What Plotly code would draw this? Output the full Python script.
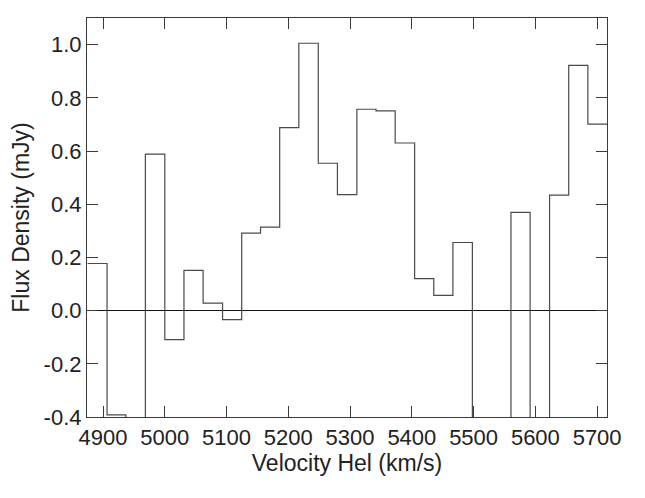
import plotly.graph_objects as go

# bin edges (km/s), plus the last right edge
bin_edges = [4875, 4906.5, 4937, 4968.5, 5000, 5031, 5062, 5093.5, 5124.5,
             5155, 5186, 5217, 5248.5, 5279.5, 5311, 5342, 5373, 5404.5,
             5435.5, 5466.5, 5498, 5529, 5560.5, 5591.5, 5623, 5654, 5685, 5716]
# flux per bin (mJy); bins that drop off the bottom of the frame set to -0.6
flux = [0.177, -0.392, -0.6, 0.588, -0.109, 0.151, 0.028, -0.034, 0.291,
        0.314, 0.688, 1.005, 0.554, 0.436, 0.757, 0.751, 0.630, 0.120,
        0.057, 0.256, -0.6, -0.6, 0.369, -0.6, 0.434, 0.922, 0.701]

x_ticks = [4900, 5000, 5100, 5200, 5300, 5400, 5500, 5600, 5700]
y_ticks = [-0.4, -0.2, 0.0, 0.2, 0.4, 0.6, 0.8, 1.0]
y_ticktext = ["-0.4", "-0.2", "0.0", "0.2", "0.4", "0.6", "0.8", "1.0"]

FONT = "Liberation Sans, Arial, sans-serif"
AXIS_COLOR = "#3a3a3a"

fig = go.Figure()
fig.add_trace(go.Scatter(
    x=bin_edges, y=flux + [flux[-1]],
    mode="lines", line=dict(shape="hv", color="#4a4a4a", width=1.2),
    showlegend=False, hoverinfo="skip",
))

axis_common = dict(
    showline=True, mirror="ticks", linecolor=AXIS_COLOR, linewidth=1.2,
    ticks="inside", ticklen=11, tickwidth=1.2, tickcolor=AXIS_COLOR,
    showgrid=False, tickfont=dict(size=22, color="#222"), automargin=False,
)

# the page body adds an 8px offset, so margins are shifted to compensate
fig.update_layout(
    width=645, height=498,
    margin=dict(l=79, r=46, t=10, b=89),
    plot_bgcolor="white", paper_bgcolor="white",
    font=dict(family=FONT, color="#222"),
    xaxis=dict(
        range=[4874, 5716], tickvals=x_ticks, zeroline=False,
        title=dict(text="Velocity Hel (km/s)", font=dict(size=23), standoff=6),
        **axis_common,
    ),
    yaxis=dict(
        range=[-0.4, 1.1], tickvals=y_ticks, ticktext=y_ticktext,
        zeroline=True, zerolinecolor="#111", zerolinewidth=1,
        title=dict(text="Flux Density (mJy)", font=dict(size=23), standoff=8),
        **axis_common,
    ),
)

fig.write_html("out.html")
